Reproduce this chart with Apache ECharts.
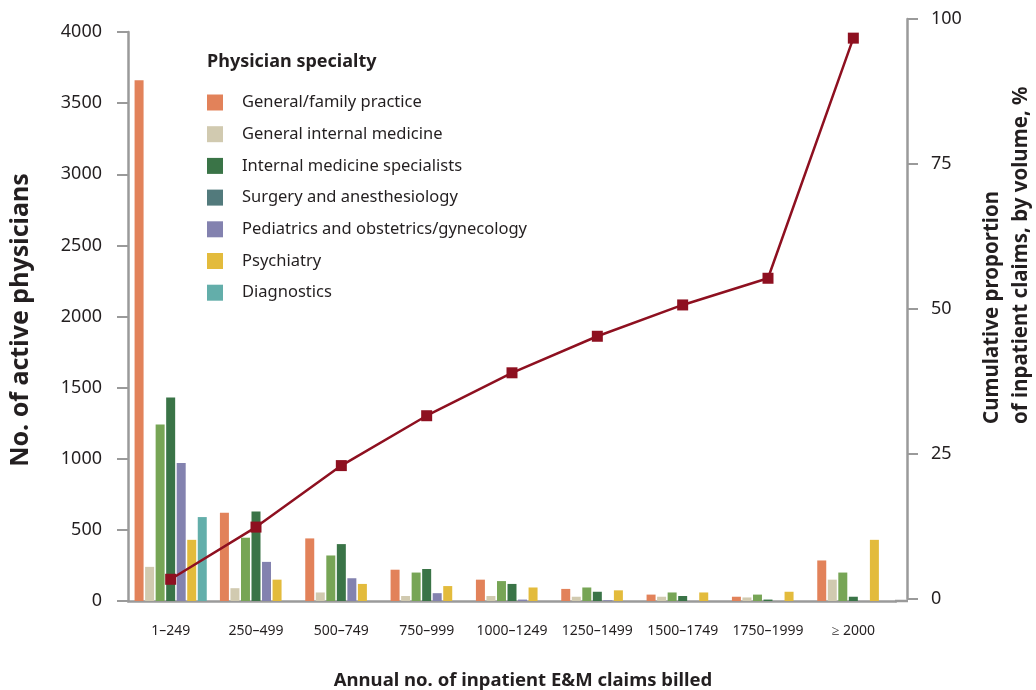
<!DOCTYPE html>
<html>
<head>
<meta charset="utf-8">
<script src="https://cdn.jsdelivr.net/npm/echarts@6/dist/echarts.min.js"></script>
<style>
  html, body { margin: 0; padding: 0; background: #fff; }
  #chart { width: 1036px; height: 690px; }
</style>
</head>
<body>
<div id="chart"></div>
<script>
var categories = ['1\u2013249', '250\u2013499', '500\u2013749', '750\u2013999', '1000\u20131249', '1250\u20131499', '1500\u20131749', '1750\u20131999', '\u2265 2000'];

var generalFamily   = [3660, 620, 440, 220, 150, 85, 45, 30, 285];
var generalInternal = [240, 90, 60, 35, 35, 30, 30, 25, 150];
var internalSpec    = [1240, 445, 320, 200, 140, 95, 60, 45, 200];
var surgery         = [1430, 630, 400, 225, 120, 65, 35, 10, 30];
var pediatrics      = [970, 275, 160, 55, 10, 5, 0, 0, 0];
var psychiatry      = [430, 150, 120, 105, 95, 75, 60, 65, 430];
var diagnostics     = [590, 0, 0, 0, 0, 0, 0, 0, 0];

var cumulative = [3.4, 12.4, 23, 31.6, 39, 45.3, 50.7, 55.3, 96.7];

var specialtyNames = [
  'General/family practice',
  'General internal medicine',
  'Internal medicine specialists',
  'Surgery and anesthesiology',
  'Pediatrics and obstetrics/gynecology',
  'Psychiatry',
  'Diagnostics'
];
var barColors = ['#E2825A', '#D1CAB0', '#77A556', '#3A7447', '#8382AF', '#E3BB3C', '#63AEAA'];
var legendColors = ['#E2825A', '#D1CAB0', '#3A7447', '#527A7C', '#8382AF', '#E3BB3C', '#63AEAA'];
var barData = [generalFamily, generalInternal, internalSpec, surgery, pediatrics, psychiatry, diagnostics];

var fontFamily = 'Noto Sans';
var axisGray = '#9a9a9a';
var textColor = '#231f20';

var chart = echarts.init(document.getElementById('chart'));

var series = [];
for (var i = 0; i < specialtyNames.length; i++) {
  series.push({
    name: specialtyNames[i],
    type: 'bar',
    xAxisIndex: 0,
    yAxisIndex: 0,
    barWidth: 9,
    barGap: '17%',
    itemStyle: { color: barColors[i] },
    data: barData[i]
  });
}
series.push({
  name: 'Cumulative',
  type: 'line',
  xAxisIndex: 1,
  yAxisIndex: 1,
  symbol: 'rect',
  symbolSize: 11,
  lineStyle: { color: '#8E1020', width: 2.5 },
  itemStyle: { color: '#8E1020' },
  data: cumulative
});

var legendData = [];
for (var j = 0; j < specialtyNames.length; j++) {
  legendData.push({ name: specialtyNames[j], itemStyle: { color: legendColors[j] } });
}

function plainNumber(v) { return String(v); }

var option = {
  animation: false,
  textStyle: { fontFamily: fontFamily },
  title: {
    text: 'Physician specialty',
    left: 202,
    top: 48,
    textStyle: { fontSize: 18, fontWeight: 'bold', color: textColor, fontFamily: fontFamily }
  },
  legend: {
    data: legendData,
    orient: 'vertical',
    left: 202,
    top: 89,
    icon: 'rect',
    itemWidth: 16,
    itemHeight: 16,
    itemGap: 14.7,
    textStyle: { fontSize: 16.5, lineHeight: 16, color: textColor, padding: [0, 0, 0, 14], fontFamily: fontFamily }
  },
  grid: [
    { left: 128, right: 140, top: 32, bottom: 89, outerBoundsMode: 'none' },
    { left: 128, right: 140, top: 19, bottom: 91, outerBoundsMode: 'none' }
  ],
  xAxis: [
    {
      type: 'category',
      gridIndex: 0,
      data: categories,
      axisLine: { lineStyle: { color: axisGray, width: 2.5 } },
      axisTick: { length: 9, lineStyle: { color: axisGray, width: 2 } },
      axisLabel: { fontSize: 14, color: textColor, margin: 23, interval: 0 }
    },
    {
      type: 'category',
      gridIndex: 1,
      data: categories,
      show: false
    }
  ],
  yAxis: [
    {
      type: 'value',
      gridIndex: 0,
      min: 0,
      max: 4000,
      interval: 500,
      axisLine: { show: true, lineStyle: { color: axisGray, width: 2.5 } },
      axisTick: { show: true, length: 11, lineStyle: { color: axisGray, width: 2 } },
      axisLabel: { fontSize: 18, color: textColor, margin: 26, formatter: plainNumber },
      splitLine: { show: false }
    },
    {
      type: 'value',
      gridIndex: 1,
      position: 'right',
      offset: 11,
      min: 0,
      max: 100,
      interval: 25,
      axisLine: { show: true, lineStyle: { color: axisGray, width: 2.5 } },
      axisTick: { show: true, length: 11, lineStyle: { color: axisGray, width: 2 } },
      axisLabel: { fontSize: 18, color: textColor, margin: 24, formatter: plainNumber },
      splitLine: { show: false }
    }
  ],
  graphic: [
    {
      // bridge the x axis line out to the offset right axis
      type: 'line',
      shape: { x1: 895, y1: 601, x2: 908, y2: 601 },
      style: { stroke: axisGray, lineWidth: 2.5 }
    },
    {
      type: 'text',
      x: 21,
      y: 320,
      rotation: Math.PI / 2,
      style: {
        text: 'No. of active physicians',
        font: 'bold 25px "Noto Sans"',
        fill: textColor,
        align: 'center',
        verticalAlign: 'middle'
      }
    },
    {
      type: 'text',
      x: 523,
      y: 681,
      style: {
        text: 'Annual no. of inpatient E&M claims billed',
        font: 'bold 18.5px "Noto Sans"',
        fill: textColor,
        align: 'center',
        verticalAlign: 'middle'
      }
    },
    {
      type: 'text',
      x: 978,
      y: 424,
      rotation: Math.PI / 2,
      style: {
        text: 'Cumulative proportion\nof inpatient claims, by volume, %',
        font: 'bold 20.5px "Noto Sans"',
        fill: textColor,
        align: 'left',
        verticalAlign: 'top',
        lineHeight: 29
      }
    }
  ],
  series: series
};

chart.setOption(option);
</script>
</body>
</html>
